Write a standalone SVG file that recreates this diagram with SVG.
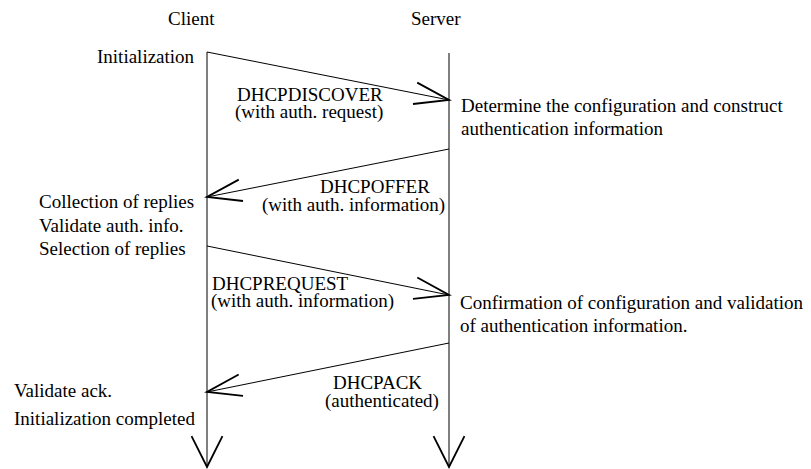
<svg xmlns="http://www.w3.org/2000/svg" width="811" height="469" viewBox="0 0 811 469">
  <style>
    text { font-family: "Liberation Serif", "Times New Roman", serif; font-size: 19px; fill: #000; }
    .line { stroke: #000; stroke-width: 1; fill: none; }
    .msg { stroke: #000; stroke-width: 1; fill: none; marker-end: url(#open); }
    .life { stroke: #000; stroke-width: 1; fill: none; marker-end: url(#openLife); }
  </style>
  <defs>
    <marker id="open" markerUnits="userSpaceOnUse" orient="auto" refX="0" refY="0"
            markerWidth="40" markerHeight="40" viewBox="-20 -10 22 20" overflow="visible">
      <path d="M-19,-6 L0,0 L-19,6" fill="none" stroke="#000" stroke-width="1"/>
    </marker>
    <marker id="openLife" markerUnits="userSpaceOnUse" orient="auto" refX="0" refY="0"
            markerWidth="40" markerHeight="40" viewBox="-20 -10 22 20" overflow="visible">
      <path d="M-17,-8.5 L0,0 L-17,8.5" fill="none" stroke="#000" stroke-width="1"/>
    </marker>
  </defs>

  <rect width="811" height="469" fill="#fff"/>

  <!-- lifeline headers -->
  <g id="client">
    <text x="168" y="25">Client</text>
  </g>
  <g id="server">
    <text x="411" y="25">Server</text>
  </g>

  <!-- lifelines and messages -->
  <g id="connectors">
    <line class="life" x1="207" y1="52" x2="207" y2="467"/>
    <line class="life" x1="449" y1="53" x2="449" y2="467"/>
    <line class="msg" x1="207" y1="52" x2="449" y2="100"/>
    <line class="msg" x1="449" y1="149" x2="207" y2="197"/>
    <line class="msg" x1="207" y1="246" x2="449" y2="295"/>
    <line class="msg" x1="449" y1="343" x2="207" y2="392"/>
  </g>

  <!-- client-side steps -->
  <g id="client-init">
    <text x="97" y="63">Initialization</text>
  </g>
  <g id="client-select">
    <text x="39" y="208">Collection of replies</text>
    <text x="39" y="231.5">Validate auth. info.</text>
    <text x="39" y="255">Selection of replies</text>
  </g>
  <g id="client-done">
    <text x="14" y="397">Validate ack.</text>
    <text x="14" y="425">Initialization completed</text>
  </g>

  <!-- server-side steps -->
  <g id="server-config">
    <text x="461" y="112">Determine the configuration and construct</text>
    <text x="461" y="135">authentication information</text>
  </g>
  <g id="server-confirm">
    <text x="460" y="309">Confirmation of configuration and validation</text>
    <text x="460" y="332">of authentication information.</text>
  </g>

  <!-- message labels -->
  <g id="msg-discover">
    <text x="237" y="101">DHCPDISCOVER</text>
    <text x="235" y="118">(with auth. request)</text>
  </g>
  <g id="msg-offer">
    <text x="320" y="193">DHCPOFFER</text>
    <text x="262" y="211">(with auth. information)</text>
  </g>
  <g id="msg-request">
    <text x="212" y="290">DHCPREQUEST</text>
    <text x="211" y="307">(with auth. information)</text>
  </g>
  <g id="msg-ack">
    <text x="333" y="389">DHCPACK</text>
    <text x="325" y="407">(authenticated)</text>
  </g>
</svg>
